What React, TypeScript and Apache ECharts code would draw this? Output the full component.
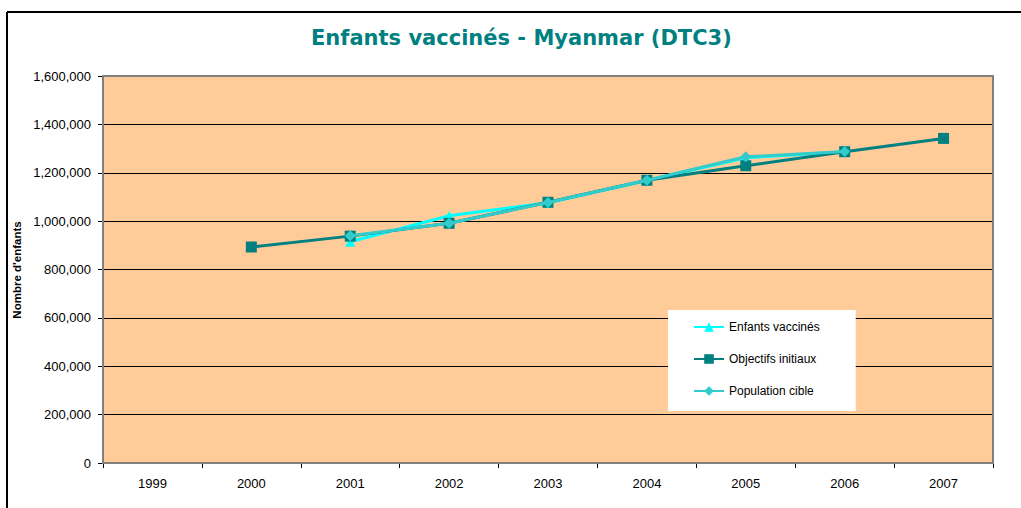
import React, { useEffect, useRef } from "react";
import * as echarts from "echarts";

const years = ["1999", "2000", "2001", "2002", "2003", "2004", "2005", "2006", "2007"];
const enfantsVaccines = [null, null, 915000, 1022000, 1076000, 1168000, 1262000, 1286000, null];
const objectifsInitiaux = [null, 893000, 938000, 991000, 1078000, 1169000, 1229000, 1287000, 1342000];
const populationCible = [null, null, 940000, 991000, 1077000, 1169000, 1266000, 1288000, null];

const titleText = "Enfants vaccinés - Myanmar (DTC3)";
const yAxisName = "Nombre d'enfants";

const fmt = (v: number) => v.toLocaleString("en-US");

export default function App() {
  const ref = useRef<HTMLDivElement>(null);
  useEffect(() => {
    if (!ref.current) return;
    const chart = echarts.init(ref.current, undefined, { renderer: "svg" });
    const font = "'Liberation Sans', Arial, sans-serif";
    chart.setOption({
      animation: false,
      backgroundColor: "#ffffff",
      title: {
        text: titleText,
        left: 306,
        top: 22,
        textStyle: {
          fontFamily: "'DejaVu Sans', Verdana, sans-serif",
          fontSize: 21,
          fontWeight: "bold",
          color: "#008080",
        },
      },
      graphic: [
        {
          type: "line",
          shape: { x1: 7, y1: 12, x2: 1021, y2: 12 },
          style: { stroke: "#000", lineWidth: 2 },
        },
        {
          type: "line",
          shape: { x1: 7, y1: 12, x2: 7, y2: 508 },
          style: { stroke: "#000", lineWidth: 2 },
        },
        {
          type: "rect",
          shape: { x: 103, y: 76, width: 890, height: 387 },
          style: { fill: "none", stroke: "#808080", lineWidth: 2 },
          z: 1,
        },
        {
          type: "text",
          x: 17,
          y: 270,
          rotation: Math.PI / 2,
          style: {
            text: yAxisName,
            fontFamily: font,
            fontSize: 11.5,
            fontWeight: "bold",
            fill: "#000",
            align: "center",
            verticalAlign: "middle",
          },
        },
      ],
      grid: {
        left: 103,
        top: 76,
        width: 890,
        height: 387,
        show: true,
        backgroundColor: "#FFCC99",
        borderWidth: 0,
      },
      legend: {
        orient: "vertical",
        left: 668,
        top: 310,
        backgroundColor: "#ffffff",
        padding: [11, 36, 14, 25],
        itemGap: 20,
        itemWidth: 30,
        itemHeight: 12,
        textStyle: { fontFamily: font, fontSize: 12, color: "#000" },
        data: ["Enfants vaccinés", "Objectifs initiaux", "Population cible"],
      },
      xAxis: {
        type: "category",
        data: years,
        boundaryGap: true,
        axisLine: { lineStyle: { color: "#000", width: 1 } },
        axisTick: { show: true, length: 5, lineStyle: { color: "#000" } },
        axisLabel: { fontFamily: font, fontSize: 13, color: "#000", margin: 14 },
        splitLine: { show: false },
      },
      yAxis: {
        type: "value",
        min: 0,
        max: 1600000,
        interval: 200000,
        axisLine: { show: true, lineStyle: { color: "#000", width: 1 } },
        axisTick: { show: true, length: 5, lineStyle: { color: "#000" } },
        axisLabel: { fontFamily: font, fontSize: 13, color: "#000", margin: 12, formatter: (v: number) => fmt(v) },
        splitLine: { show: true, lineStyle: { color: "#000", width: 1 } },
      },
      series: [
        {
          name: "Enfants vaccinés",
          type: "line",
          data: enfantsVaccines,
          symbol: "triangle",
          symbolSize: 10,
          color: "#00FFFF",
          lineStyle: { width: 3, color: "#00FFFF" },
          itemStyle: { color: "#00FFFF" },
          z: 3,
        },
        {
          name: "Objectifs initiaux",
          type: "line",
          data: objectifsInitiaux,
          symbol: "rect",
          symbolSize: 11,
          color: "#008080",
          lineStyle: { width: 3, color: "#008080" },
          itemStyle: { color: "#008080" },
          z: 4,
        },
        {
          name: "Population cible",
          type: "line",
          data: populationCible,
          symbol: "diamond",
          symbolSize: 11,
          color: "#33CCCC",
          lineStyle: { width: 3, color: "#33CCCC" },
          itemStyle: { color: "#33CCCC" },
          z: 5,
        },
      ],
    });
    return () => chart.dispose();
  }, []);
  return (
    <div
      ref={ref}
      style={{ position: "absolute", left: 0, top: 0, width: 1021, height: 508 }}
    />
  );
}
